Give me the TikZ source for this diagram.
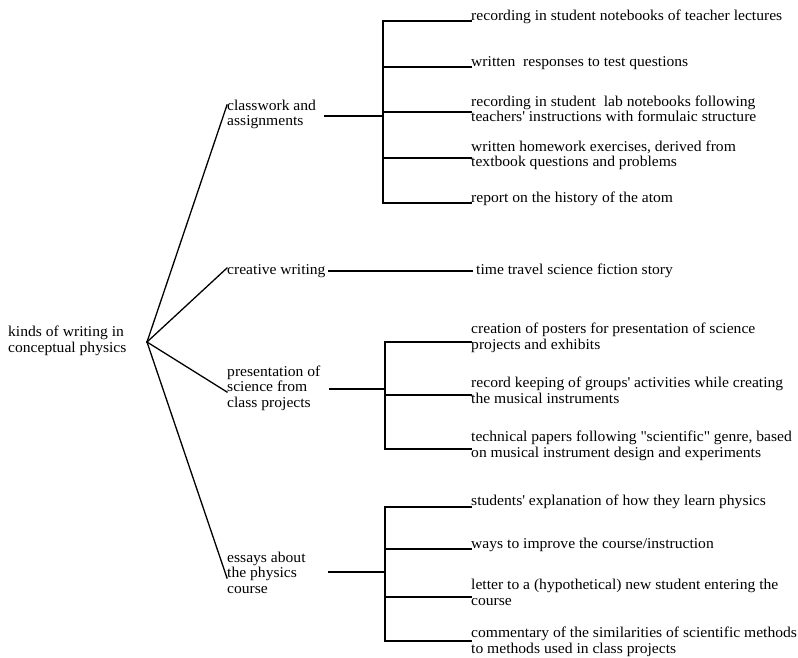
\documentclass[tikz,border=0pt]{standalone}
\usepackage{fontspec}
\setmainfont[FakeStretch=1.04]{Liberation Serif}
\begin{document}
\begin{tikzpicture}[x=1pt,y=-1pt,
  txt/.style={anchor=base west, inner sep=0pt, align=left, font=\fontsize{15}{15.3}\selectfont},
  link/.style={line width=1.3pt, line cap=rect}]
\useasboundingbox (0,0) rectangle (798,658);
% root and branches (multi-line nodes are placed by the baseline of their last line)
\node[txt] (root) at (8,352) {kinds of writing in\\conceptual physics};
\coordinate (apex) at (147,342);
\node[txt] (cw) at (227,126) {classwork and\\assignments};
\node[txt] (cr) at (227,274) {creative writing};
\node[txt] (pr) at (227,407) {presentation of\\science from\\class projects};
\node[txt] (es) at (227,593) {essays about\\the physics\\course};
\draw[link] (apex) -- (cw.west |- 0,105);
\draw[link] (apex) -- (cr.west |- 0,268);
\draw[link] (apex) -- (pr.west |- 0,392);
\draw[link] (apex) -- (es.west |- 0,578);
% classwork group
\node[txt] (i11) at (471,21) {recording in student notebooks of teacher lectures};
\node[txt] (i12) at (471,67) {written~ responses to test questions};
\node[txt] (i13) at (471,122) {recording in student~ lab notebooks following\\teachers\textquotesingle{} instructions with formulaic structure};
\node[txt] (i14) at (471,167) {written homework exercises, derived from\\textbook questions and problems};
\node[txt] (i15) at (471,202) {report on the history of the atom};
\coordinate (cwR) at (325,116);
\coordinate (b1) at (383,116);
\coordinate (a11) at (383,21);
\coordinate (a12) at (383,67);
\coordinate (a13) at (383,112);
\coordinate (a14) at (383,158);
\coordinate (a15) at (383,203);
\draw[link] (cwR) -- (b1);
\draw[link] (a11) -- (a15);
\foreach \k in {1,...,5} {\draw[link] (a1\k) -- (a1\k -| i1\k.west);}
% creative writing
\node[txt] (i21) at (476,274) {time travel science fiction story};
\coordinate (crR) at (329,271);
\draw[link] (crR) -- ([xshift=-4pt]i21.west |- crR);
% presentation group
\node[txt] (i31) at (471,349) {creation of posters for presentation of science\\projects and exhibits};
\node[txt] (i32) at (471,403) {record keeping of groups\textquotesingle{} activities while creating\\the musical instruments};
\node[txt] (i33) at (471,457) {technical papers following \textquotedbl{}scientific\textquotedbl{} genre, based\\on musical instrument design and experiments};
\coordinate (prR) at (330,389);
\coordinate (b3) at (385,389);
\coordinate (a31) at (385,342);
\coordinate (a32) at (385,395);
\coordinate (a33) at (385,449);
\draw[link] (prR) -- (b3);
\draw[link] (a31) -- (a33);
\foreach \k in {1,2,3} {\draw[link] (a3\k) -- (a3\k -| i3\k.west);}
% essays group
\node[txt] (i41) at (471,505) {students\textquotesingle{} explanation of how they learn physics};
\node[txt] (i42) at (471,548) {ways to improve the course/instruction};
\node[txt] (i43) at (471,605) {letter to a (hypothetical) new student entering the\\course};
\node[txt] (i44) at (471,653) {commentary of the similarities of scientific methods\\to methods used in class projects};
\coordinate (esR) at (329,572);
\coordinate (b4) at (385,572);
\coordinate (a41) at (385,507);
\coordinate (a42) at (385,549);
\coordinate (a43) at (385,597);
\coordinate (a44) at (385,641);
\draw[link] (esR) -- (b4);
\draw[link] (a41) -- (a44);
\foreach \k in {1,...,4} {\draw[link] (a4\k) -- (a4\k -| i4\k.west);}
\end{tikzpicture}
\end{document}
